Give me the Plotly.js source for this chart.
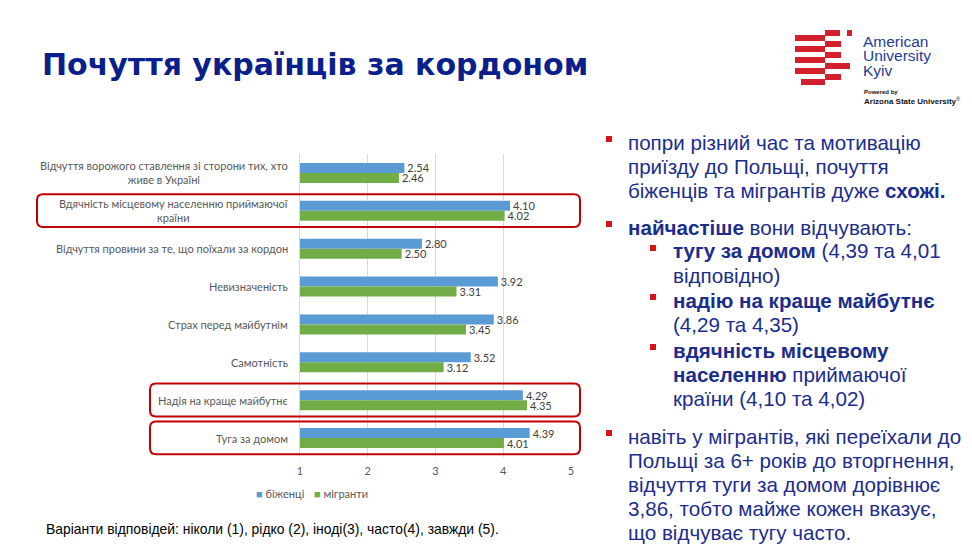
<!DOCTYPE html>
<html>
<head>
<meta charset="utf-8">
<script src="https://cdn.plot.ly/plotly-3.0.1.min.js"></script>
<style>html,body{margin:0;padding:0;background:#fff;}#chart{width:972px;height:560px;}</style>
</head>
<body>
<div id="chart"></div>
<script>
// ---- data ----
const categories = [
  'Відчуття ворожого ставлення зі сторони тих, хто<br>живе в Україні',
  'Вдячність місцевому населенню приймаючої<br>країни',
  'Відчуття провини за те, що поїхали за кордон',
  'Невизначеність',
  'Страх перед майбутнім',
  'Самотність',
  'Надія на краще майбутнє',
  'Туга за домом'
];
const refugees = [2.54, 4.10, 2.80, 3.92, 3.86, 3.52, 4.29, 4.39];
const migrants = [2.46, 4.02, 2.50, 3.31, 3.45, 3.12, 4.35, 4.01];
const seriesNames = ['біженці', 'мігранти'];
const seriesColors = ['#5b9bd5', '#70ad47'];
const xTicks = [1, 2, 3, 4, 5];
const highlighted = [1, 6, 7];
const titleText = 'Почуття українців за кордоном';
const footnote = 'Варіанти відповідей: ніколи (1), рідко (2), іноді(3), часто(4), завжди (5).';
const bulletLines = [
  {lvl: 1, b: true,  t: 'попри різний час та мотивацію'},
  {lvl: 1, b: false, t: 'приїзду до Польщі, почуття'},
  {lvl: 1, b: false, t: 'біженців та мігрантів дуже <b>схожі.</b>'},
  {lvl: 1, b: true,  t: '<b>найчастіше</b> вони відчувають:'},
  {lvl: 2, b: true,  t: '<b>тугу за домом</b> (4,39 та 4,01'},
  {lvl: 2, b: false, t: 'відповідно)'},
  {lvl: 2, b: true,  t: '<b>надію на краще майбутнє</b>'},
  {lvl: 2, b: false, t: '(4,29 та 4,35)'},
  {lvl: 2, b: true,  t: '<b>вдячність місцевому</b>'},
  {lvl: 2, b: false, t: '<b>населенню</b> приймаючої'},
  {lvl: 2, b: false, t: 'країни (4,10 та 4,02)'},
  {lvl: 1, b: true,  t: 'навіть у мігрантів, які переїхали до'},
  {lvl: 1, b: false, t: 'Польщі за 6+ років до вторгнення,'},
  {lvl: 1, b: false, t: 'відчуття туги за домом дорівнює'},
  {lvl: 1, b: false, t: '3,86, тобто майже кожен вказує,'},
  {lvl: 1, b: false, t: 'що відчуває тугу часто.'}
];

// ---- layout helpers ----
const W = 972, H = 560;
const px = x => x / W;
const py = y => 1 - y / H;
const bulletY = [142, 166, 190, 227, 251, 275, 300, 324, 350, 374, 398, 436, 460, 484, 508, 532];
const textBlue = '#1b2d8c';
const bulletRed = '#d7141e';
const chartFont = 'Lato, "Open Sans", "Liberation Sans", sans-serif';
const arial = '"Liberation Sans", Arial, sans-serif';

const traces = [refugees, migrants].map((vals, s) => ({
  type: 'bar', orientation: 'h', name: seriesNames[s], y: categories.map((c, i) => i), x: vals,
  marker: {color: seriesColors[s]}, text: vals.map(v => v.toFixed(2)), textposition: 'outside',
  constraintext: 'none', textfont: {size: 11, color: '#404040', family: chartFont}, hoverinfo: 'x',
  showlegend: false
}));

const annotations = [];
const shapes = [];

// title
annotations.push({xref: 'paper', yref: 'paper', x: px(40), y: py(64), xanchor: 'left', yanchor: 'middle',
  text: '<b>' + titleText + '</b>', showarrow: false,
  font: {family: '"DejaVu Sans", sans-serif', size: 30, color: '#0a1f8c'}});

// category labels
categories.forEach((c, i) => {
  annotations.push({xref: 'paper', yref: 'y', x: px(290), y: i, xanchor: 'right', yanchor: 'middle',
    align: 'center', text: c, showarrow: false, font: {family: chartFont, size: 11, color: '#595959'}});
});

// legend (drawn as annotations to match the compact Office legend)
const legendX = [254, 312];
seriesNames.forEach((n, s) => {
  annotations.push({xref: 'paper', yref: 'paper', x: px(legendX[s]), y: py(493), xanchor: 'left', yanchor: 'middle',
    text: '<span style="color:' + seriesColors[s] + '">■</span> ' + n, showarrow: false,
    font: {family: chartFont, size: 11, color: '#595959'}});
});

// highlight boxes
const r = 6;
highlighted.forEach(i => {
  const x0 = px(i === 1 ? 37 : 150), x1 = px(580);
  const y0 = i - 0.44, y1 = i + 0.43;
  const rx = r / W, ry = r / 37.86;
  const p = `M ${x0 + rx},${y0} L ${x1 - rx},${y0} Q ${x1},${y0} ${x1},${y0 + ry} L ${x1},${y1 - ry} Q ${x1},${y1} ${x1 - rx},${y1} ` +
            `L ${x0 + rx},${y1} Q ${x0},${y1} ${x0},${y1 - ry} L ${x0},${y0 + ry} Q ${x0},${y0} ${x0 + rx},${y0} Z`;
  shapes.push({type: 'path', xref: 'paper', yref: 'y', path: p, line: {color: '#c00000', width: 2}, layer: 'above'});
});

// footnote
annotations.push({xref: 'paper', yref: 'paper', x: px(44), y: py(529), xanchor: 'left', yanchor: 'middle',
  text: footnote, showarrow: false, font: {family: arial, size: 13.9, color: '#000'}});

// bullets
bulletLines.forEach((l, k) => {
  const tx = l.lvl === 1 ? 626 : 671;
  annotations.push({xref: 'paper', yref: 'paper', x: px(tx), y: py(bulletY[k]), xanchor: 'left', yanchor: 'middle',
    text: l.t, showarrow: false, font: {family: arial, size: 20.6, color: textBlue}});
  if (l.b) {
    const bx = l.lvl === 1 ? 606 : 650;
    const by = bulletY[k] - 3;
    shapes.push({type: 'rect', xref: 'paper', yref: 'paper', x0: px(bx), x1: px(bx + 6), y0: py(by - 3), y1: py(by + 3),
      fillcolor: bulletRed, line: {width: 0}});
  }
});

// logo
const logoRed = '#d41f2d';
const stripes = [
  [795, 825, 35, 41], [795, 825, 46, 52], [795, 825, 57, 63], [795, 825, 68, 74], [801, 825, 79, 85],
  [825, 840, 30, 36], [847, 852, 30, 36], [825, 841, 41, 47], [825, 841, 52, 58], [825, 850, 63, 69], [825, 841, 74, 80]
];
stripes.forEach(s => shapes.push({type: 'rect', xref: 'paper', yref: 'paper', x0: px(s[0]), x1: px(s[1]),
  y0: py(s[3]), y1: py(s[2]), fillcolor: logoRed, line: {width: 0}}));
const logoBlue = '#1e3c96';
[['American', 42], ['University', 56], ['Kyiv', 70]].forEach(a => annotations.push({
  xref: 'paper', yref: 'paper', x: px(861), y: py(a[1]), xanchor: 'left', yanchor: 'middle', text: a[0], showarrow: false,
  font: {family: arial, size: 15.5, color: logoBlue}}));
annotations.push({xref: 'paper', yref: 'paper', x: px(862), y: py(92), xanchor: 'left', yanchor: 'middle',
  text: '<b>Powered by</b>', showarrow: false, font: {family: arial, size: 6, color: '#111'}});
annotations.push({xref: 'paper', yref: 'paper', x: px(862), y: py(100.5), xanchor: 'left', yanchor: 'middle',
  text: '<b>Arizona State University</b><sup>®</sup>', showarrow: false, font: {family: arial, size: 8, color: '#111'}});

const layout = {
  width: W, height: H, margin: {l: 0, r: 0, t: 0, b: 0},
  paper_bgcolor: '#fff', plot_bgcolor: '#fff',
  barmode: 'group', bargap: 0.47, bargroupgap: 0,
  showlegend: false,
  xaxis: {domain: [px(300), px(571)], range: [1, 5], tickvals: xTicks, showgrid: true, gridcolor: '#d9d9d9',
    zeroline: false, showline: false, ticks: '', ticklabelstandoff: 6,
    tickfont: {family: chartFont, size: 11, color: '#595959'}, fixedrange: true},
  yaxis: {domain: [py(457), py(154)], type: 'linear', range: [7.5, -0.5], showticklabels: false, showgrid: false,
    zeroline: false, showline: true, linecolor: '#d9d9d9', linewidth: 1, fixedrange: true},
  annotations: annotations, shapes: shapes
};

Plotly.newPlot('chart', traces, layout, {displayModeBar: false, staticPlot: true});
</script>
</body>
</html>
